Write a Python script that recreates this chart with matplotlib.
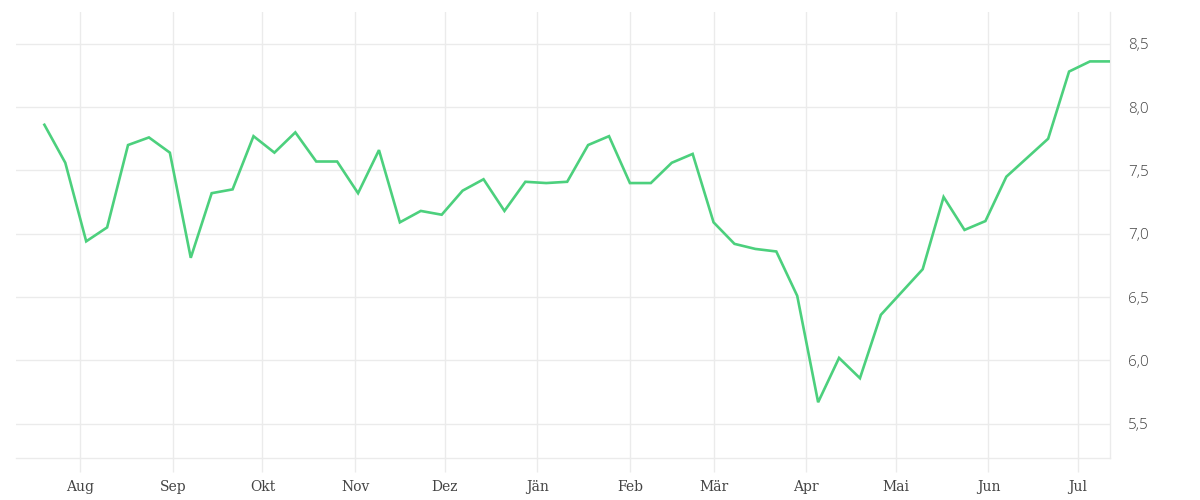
import numpy as np
import pandas as pd
import matplotlib
matplotlib.use("Agg")
import matplotlib.pyplot as plt
import matplotlib.dates as mdates

# weekly values
weeks = pd.date_range("2018-07-20", periods=52, freq="7D")
values = [7.86, 7.56, 6.94, 7.05, 7.70, 7.76, 7.64, 6.81, 7.32, 7.35,
          7.77, 7.64, 7.80, 7.57, 7.57, 7.32, 7.66, 7.09, 7.18, 7.15,
          7.34, 7.43, 7.18, 7.41, 7.40, 7.41, 7.70, 7.77, 7.40, 7.40,
          7.56, 7.63, 7.09, 6.92, 6.88, 6.86, 6.51, 5.67, 6.02, 5.86,
          6.36, 6.54, 6.72, 7.29, 7.03, 7.10, 7.45, 7.60, 7.75, 8.28,
          8.36, 8.36]
month_names = ["Jän", "Feb", "Mär", "Apr", "Mai", "Jun",
               "Jul", "Aug", "Sep", "Okt", "Nov", "Dez"]
y_ticks = [5.5, 6.0, 6.5, 7.0, 7.5, 8.0, 8.5]

grid_col = "#ebebeb"
text_col = "#444444"

fig = plt.figure(figsize=(12, 5), dpi=100)
ax = fig.add_axes([16 / 1200, 1 - 458 / 500, (1110 - 16) / 1200, (458 - 12) / 500])

ax.plot(weeks, values, color="#4cd07d", linewidth=1.9, solid_joinstyle="miter",
        zorder=3)

ax.set_xlim(weeks[0] - pd.Timedelta(days=9.5), weeks[-1] - pd.Timedelta(days=0.3))
ax.set_ylim(5.23, 8.75)

ax.xaxis.set_major_locator(mdates.MonthLocator())
ax.xaxis.set_major_formatter(plt.FuncFormatter(
    lambda v, p: month_names[mdates.num2date(v).month - 1]))
ax.yaxis.set_major_locator(plt.FixedLocator(y_ticks))
ax.yaxis.set_major_formatter(plt.FuncFormatter(
    lambda v, p: ("%.1f" % v).replace(".", ",")))

ax.yaxis.tick_right()
ax.grid(True, color=grid_col, linewidth=1, zorder=0)
for s in ["top", "left"]:
    ax.spines[s].set_visible(False)
for s in ["bottom", "right"]:
    ax.spines[s].set_color(grid_col)
    ax.spines[s].set_linewidth(1)

ax.tick_params(axis="x", length=10, width=1, color=grid_col, pad=6,
               labelsize=10, labelcolor=text_col, labelfontfamily="DejaVu Serif")
ax.tick_params(axis="y", length=0, pad=13, labelsize=11, labelcolor=text_col,
               labelfontfamily="Open Sans")
for lab in ax.get_yticklabels():
    lab.set_fontweight("light")

fig.savefig("out.png", dpi=100, facecolor="white")
